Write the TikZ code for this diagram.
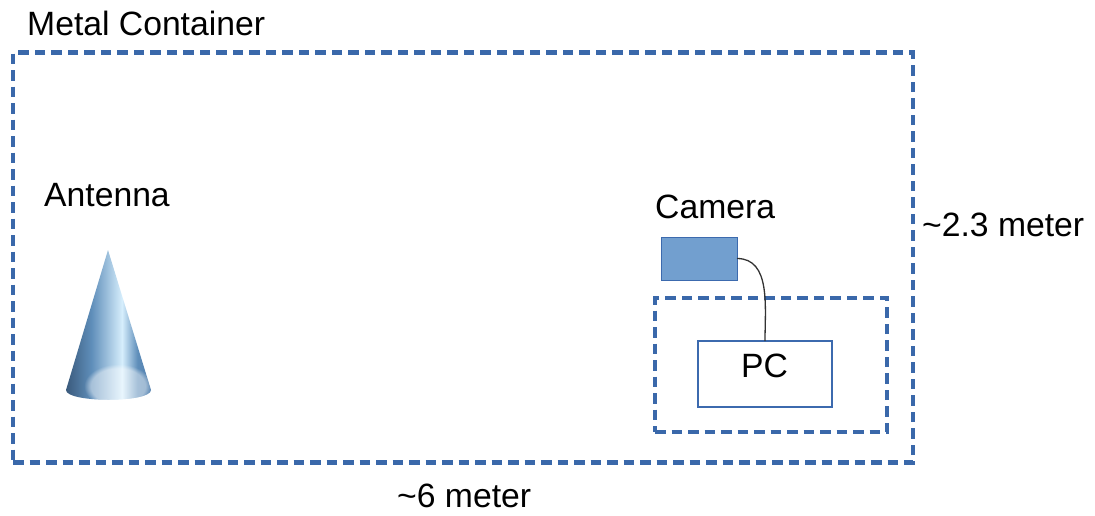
\documentclass[tikz,border=0pt]{standalone}
\usepackage{fontspec}
\setmainfont{Liberation Sans}
\usepackage{tikz}
\usetikzlibrary{positioning, fadings}

\definecolor{frameblue}{HTML}{3A68AA}
\definecolor{boxblue}{HTML}{3C6AAE}
\definecolor{camfill}{HTML}{729FCF}
\definecolor{coneedge}{HTML}{3A5A7C}
\definecolor{conemid}{HTML}{5F8EBA}
\definecolor{conelight}{HTML}{D6EEFC}
\definecolor{coneright}{HTML}{4F7EAD}

% horizontal shading for the antenna cone
\pgfdeclarehorizontalshading{coneshade}{100bp}{
    color(0bp)=(coneedge); color(25bp)=(coneedge); color(40bp)=(conemid);
    color(58bp)=(conelight); color(67bp)=(conemid); color(75bp)=(coneright);
    color(100bp)=(coneright)}

\begin{document}
\begin{tikzpicture}[
        x=1pt, y=-1pt,
        font=\fontsize{33.7}{40}\selectfont,
        frame/.style={draw=frameblue, line width=4.3pt, dash pattern=on 10.5pt off 6pt,
            inner sep=0pt, outer sep=0pt, anchor=north west},
        box/.style={draw=boxblue, line width=1.7pt, inner sep=0pt, outer sep=0pt,
            anchor=north west},
        lbl/.style={anchor=base west, inner sep=0pt},
        cable/.style={draw=black!80, line width=1.3pt},
    ]
        \useasboundingbox (0,0) rectangle (1095,515);

        % container and its dimensions
        \node[frame, minimum width=900pt, minimum height=410pt] (container) at (13,52.5) {};
        \node[lbl] (containerlbl) at (27,35) {Metal Container};
        \node[lbl] (height) at (922,236) {\textasciitilde2.3 meter};
        \node[lbl] (length) at (397,507) {\textasciitilde6 meter};

        % antenna (cone)
        \node[lbl] (antennalbl) at (44,206) {Antenna};
        \coordinate (apex) at (108,250);
        \coordinate (baseL) at (66,390);
        \coordinate (baseR) at (151,390);
        \shade[shading=coneshade] (baseL) -- (apex) -- (baseR)
            .. controls (151,403) and (66,403) .. (baseL) -- cycle;
        \begin{scope}
            \clip (baseL) -- (apex) -- (baseR)
                .. controls (151,403) and (66,403) .. (baseL) -- cycle;
            \fill[white, opacity=0.45, path fading=circle with fuzzy edge 20 percent]
                (118,386) ellipse [x radius=34, y radius=22];
        \end{scope}

        % camera and PC
        \node[lbl] (cameralbl) at (655,218) {Camera};
        \node[box, fill=camfill, line width=1pt, minimum width=76pt, minimum height=43pt] (cam) at (661,237) {};
        \node[frame, line width=4pt, minimum width=232pt, minimum height=134pt] (rack) at (655,298) {};
        \node[box, minimum width=134pt, minimum height=66pt] (pc) at (698,341) {};
        \node[inner sep=0pt, anchor=base] (pclbl) at (764.5,377) {PC};
        \draw[cable] (cam.east) to[out=0, in=90] (pc.north);
    \end{tikzpicture}
\end{document}
